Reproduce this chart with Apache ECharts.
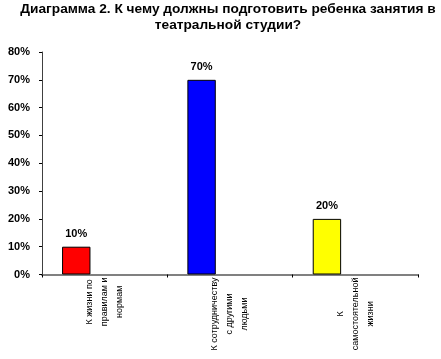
<!DOCTYPE html>
<html><head><meta charset="utf-8">
<script src="https://cdn.jsdelivr.net/npm/echarts@6/dist/echarts.min.js"></script>
<style>html,body{margin:0;padding:0;background:#fff}#c{width:441px;height:359px}</style>
</head><body><div id="c"></div>
<script>
const titleText = 'Диаграмма 2. К чему должны подготовить ребенка занятия в\nтеатральной студии?';
const categories = [
  ['К жизни по', 'правилам и', 'нормам'],
  ['К сотрудничеству', 'с другими', 'людьми'],
  ['К', 'самостоятельной', 'жизни']
];
const values = [10, 70, 20];
const barColors = ['#ff0000', '#0000ff', '#ffff00'];
const yTicks = [0, 10, 20, 30, 40, 50, 60, 70, 80];

const chart = echarts.init(document.getElementById('c'), null, {renderer: 'canvas'});
const catNames = categories.map(c => c.join('\n'));
chart.setOption({
  animation: false,
  backgroundColor: '#fff',
  title: {
    text: titleText, left: 228, top: 1, padding: 0, textAlign: 'center',
    textStyle: {fontFamily: 'Liberation Sans, Arial', fontSize: 13.7, fontWeight: 'bold', color: '#000', lineHeight: 16}
  },
  grid: {left: 42, right: 23, top: 52, bottom: 84.5, containLabel: false},
  xAxis: {
    type: 'category', data: catNames,
    axisLine: {lineStyle: {color: '#808080', width: 2}},
    axisTick: {show: true, inside: false, length: 3, lineStyle: {color: '#000'}},
    axisLabel: {
      rotate: 90, margin: 3, interval: 0,
      formatter: v => v.split('\n').map(s => '{a|' + s + '}').join('\n'),
      rich: {a: {align: 'center', fontFamily: 'Liberation Sans, Arial', fontSize: 9, color: '#000', lineHeight: 15}}
    }
  },
  yAxis: {
    type: 'value', min: 0, max: 80, interval: 10,
    splitLine: {show: false},
    axisLine: {show: true, lineStyle: {color: '#404040', width: 1}},
    axisTick: {show: true, inside: false, length: 3, lineStyle: {color: '#000'}},
    axisLabel: {
      margin: 12, fontFamily: 'Liberation Sans, Arial', fontSize: 11, fontWeight: 'bold', color: '#000',
      formatter: v => yTicks.includes(v) ? v + '%' : ''
    }
  },
  series: [
    {
      type: 'bar', barGap: '0%', barCategoryGap: '32%',
      data: values.map((v, i) => ({value: v, itemStyle: {color: barColors[i]}})),
      itemStyle: {borderColor: '#000', borderWidth: 1},
      label: {show: true, position: 'top', distance: 7, formatter: '{c}%',
        fontFamily: 'Liberation Sans, Arial', fontSize: 11, fontWeight: 'bold', color: '#000'}
    },
    {type: 'bar', barGap: '0%', barCategoryGap: '32%', data: [null, null, null]},
    {type: 'bar', barGap: '0%', barCategoryGap: '32%', data: [null, null, null]}
  ]
});
</script></body></html>
